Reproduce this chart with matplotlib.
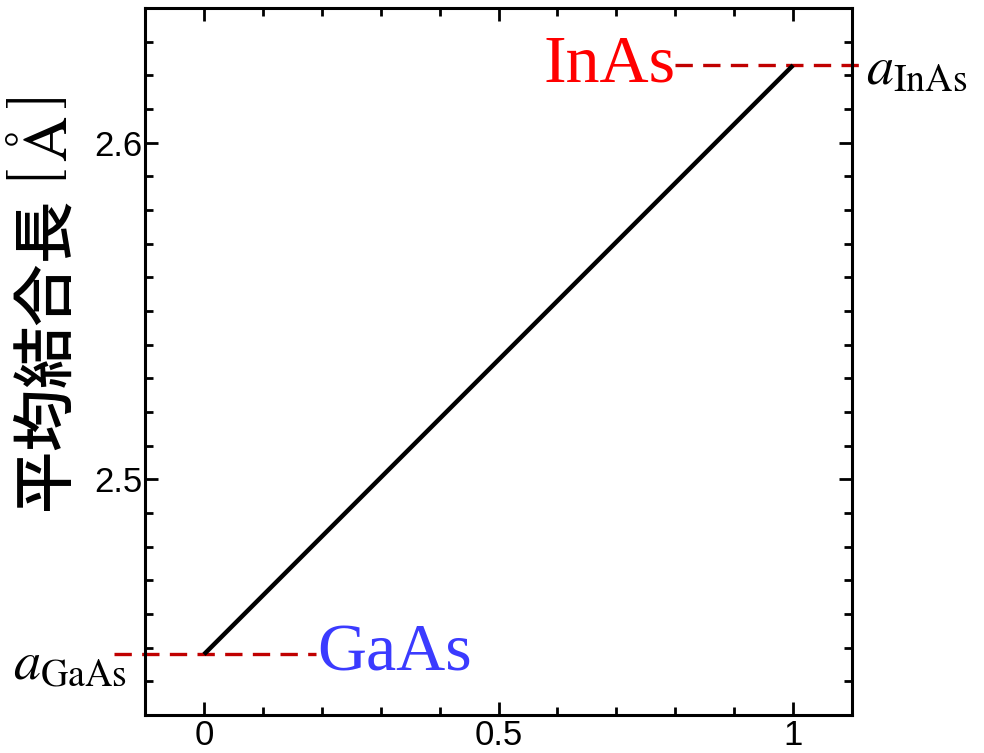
import matplotlib
matplotlib.use("Agg")
import matplotlib.pyplot as plt
from matplotlib.ticker import MultipleLocator

plt.rcParams['mathtext.fontset'] = 'stix'

# In composition x and average bond length (Vegard's law between end members)
x_comp = [0.0, 1.0]
bond_len = [2.448, 2.623]
a_gaas = 2.448
a_inas = 2.623

xlim = (-0.1, 1.1)
ylim = (2.43, 2.64)
x_major = [0, 0.5, 1]
x_ticklabels = ["0", "0.5", "1"]
y_major = [2.5, 2.6]
y_ticklabels = ["2.5", "2.6"]

fig = plt.figure(figsize=(9.84, 7.53), dpi=100)
ax = fig.add_axes([0.1474, 0.0505, 0.7185, 0.9389])

ax.plot(x_comp, bond_len, color='black', lw=3.2, solid_capstyle='butt', zorder=3)

# reference levels for the binary compounds
dash_kw = dict(color='#c00000', lw=2.4, dashes=(5.2, 3.1), clip_on=False, zorder=2)
ax.plot([-0.152, 0.19], [a_gaas, a_gaas], **dash_kw)
ax.plot([0.80, 1.112], [a_inas, a_inas], **dash_kw)

ax.text(0.193, a_gaas, "GaAs", color='#3b3bff', fontsize=49,
        ha='left', va='center', fontname='Liberation Serif')
ax.text(0.80, a_inas, "InAs", color='#ff0000', fontsize=49,
        ha='right', va='center', fontname='Liberation Serif')
ax.text(-0.131, a_gaas - 0.003, r"$a_{\mathrm{GaAs}}$", fontsize=39,
        ha='right', va='center')
ax.text(1.123, a_inas - 0.001, r"$a_{\mathrm{InAs}}$", fontsize=39,
        ha='left', va='center')

ax.set_xlim(*xlim)
ax.set_ylim(*ylim)
ax.set_xticks(x_major)
ax.set_xticklabels(x_ticklabels)
ax.set_yticks(y_major)
ax.set_yticklabels(y_ticklabels)
ax.xaxis.set_minor_locator(MultipleLocator(0.1))
ax.yaxis.set_minor_locator(MultipleLocator(0.01))
ax.tick_params(which='both', direction='in', top=True, right=True, width=2)
ax.tick_params(which='major', length=9.5, labelsize=25)
ax.tick_params(axis='y', which='major', pad=2)
ax.tick_params(axis='x', which='major', pad=3)
ax.tick_params(which='minor', length=6)
for lab in ax.get_xticklabels() + ax.get_yticklabels():
    lab.set_fontname('Liberation Sans')
for sp in ax.spines.values():
    sp.set_linewidth(2.2)

fig.text(46 / 984, 1 - 305 / 753, "平均結合長 $\\left[\\,\\mathrm{\\AA}\\,\\right]$",
         fontsize=45, rotation=90, ha='center', va='center', fontweight='medium',
         family=['Noto Sans CJK JP', 'DejaVu Sans'])

fig.savefig("out.png", dpi=100)
